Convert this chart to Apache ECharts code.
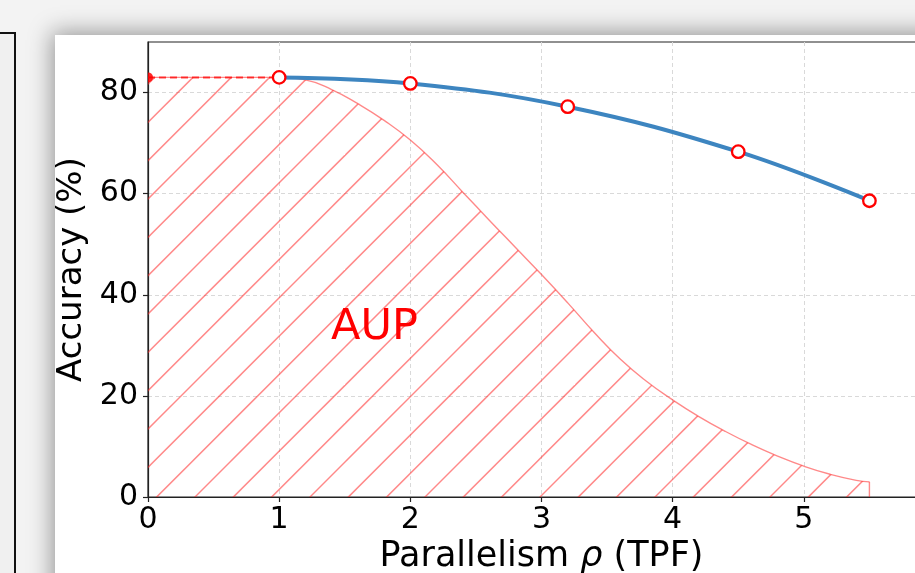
<!DOCTYPE html>
<html>
<head>
<meta charset="utf-8">
<script src="https://cdn.jsdelivr.net/npm/echarts@6.0.0/dist/echarts.min.js"></script>
<style>
  html, body { margin: 0; padding: 0; width: 915px; height: 573px; overflow: hidden; background: #f3f3f3; }
  #leftbox { position: absolute; left: -4px; top: 32px; width: 16px; height: 600px; border: 2px solid #111; background: #f0f0f0; }
  #panel { position: absolute; left: 55px; top: 35px; width: 920px; height: 620px; background: #fff; box-shadow: 0 0 22px 3px rgba(0,0,0,0.38); }
  #chart { position: absolute; left: 0; top: 0; width: 915px; height: 573px; }
</style>
</head>
<body>
<div id="leftbox"></div>
<div id="panel"></div>
<div id="chart"></div>
<script>
// ---- data ----
const parallelism = [1, 2, 3.2, 4.5, 5.5];
const accuracy = [83.0, 81.8, 77.2, 68.3, 58.6];
const refX = [0, 1];
const refY = [83.0, 83.0];
const aupX = [0, 1.0, 1.2, 1.4, 1.6, 1.8, 2.0, 2.2, 2.4, 2.6, 2.8, 3.0, 3.2, 3.4, 3.6, 3.8, 4.0, 4.2, 4.4, 4.6, 4.8, 5.0, 5.2, 5.4, 5.5];
const aupY = [83.0, 83.0, 82.5, 80.6, 77.8, 74.5, 70.6, 65.8, 60.3, 54.8, 49.4, 44.0, 38.4, 32.6, 27.3, 22.9, 19.2, 15.9, 13.0, 10.4, 8.1, 6.1, 4.5, 3.3, 3.0];
const aupEndX = [5.5, 5.5];
const aupEndY = [3.0, 0];
const xTicks = [0, 1, 2, 3, 4, 5, 6];
const yTicks = [0, 20, 40, 60, 80];
const aupLabelPos = [1.727, 33.5];

// ---- hatch pattern ----
function makeHatch() {
  const T = 115, c = document.createElement('canvas');
  c.width = T; c.height = T;
  const g = c.getContext('2d');
  g.strokeStyle = 'rgba(255,40,40,0.55)';
  g.lineWidth = 1.5;
  const step = T / 3, phase = 2;
  for (let i = -1; i <= 6; i++) {
    const k = phase + i * step;
    g.beginPath(); g.moveTo(k + 30, -30); g.lineTo(-30, k + 30); g.stroke();
  }
  return c;
}

const FONT = 'DejaVu Sans';
const EDGE = 'rgba(255,40,40,0.55)';
const chart = echarts.init(document.getElementById('chart'), null, { renderer: 'canvas' });
chart.setOption({
  animation: false,
  backgroundColor: 'transparent',
  grid: { left: 148, top: 42, right: -20, bottom: 76, containLabel: false, outerBoundsMode: 'none', show: true, borderColor: '#222', borderWidth: 1.2, backgroundColor: 'transparent' },
  xAxis: {
    type: 'value', min: 0, max: 6, interval: 1,
    name: 'Parallelism {i|ρ} (TPF)', nameLocation: 'middle', nameGap: 41,
    nameTextStyle: { fontFamily: FONT, fontSize: 35, color: '#000', rich: { i: { fontFamily: FONT, fontSize: 35, fontStyle: 'italic', color: '#000' } } },
    axisLine: { show: true, onZero: false, lineStyle: { color: '#222', width: 1.2 } },
    axisTick: { show: true, inside: false, length: 5, lineStyle: { color: '#222', width: 1.2 }, customValues: xTicks },
    axisLabel: { fontFamily: FONT, fontSize: 30, color: '#000', margin: 8, customValues: xTicks },
    splitLine: { show: true, lineStyle: { color: '#d9d9d9', type: [4, 3], width: 1 } }
  },
  yAxis: {
    type: 'value', min: 0, max: 90, interval: 20,
    name: 'Accuracy (%)', nameLocation: 'middle', nameGap: 52,
    nameTextStyle: { fontFamily: FONT, fontSize: 34, color: '#000' },
    axisLine: { show: true, onZero: false, lineStyle: { color: '#222', width: 1.2 } },
    axisTick: { show: true, inside: false, length: 5, lineStyle: { color: '#222', width: 1.2 }, customValues: yTicks },
    axisLabel: { fontFamily: FONT, fontSize: 30, color: '#000', margin: 10, customValues: yTicks },
    splitLine: { show: true, lineStyle: { color: '#d9d9d9', type: [4, 3], width: 1 } }
  },
  series: [
    {
      name: 'AUP', type: 'line', z: 1,
      data: aupX.map((x, i) => [x, aupY[i]]),
      symbol: 'none', smooth: 0.5,
      lineStyle: { color: EDGE, width: 1.4 },
      areaStyle: { color: { image: makeHatch(), repeat: 'repeat' }, opacity: 1 }
    },
    {
      name: 'AUPend', type: 'line', z: 1,
      data: aupEndX.map((x, i) => [x, aupEndY[i]]),
      symbol: 'none',
      lineStyle: { color: EDGE, width: 1.4 }
    },
    {
      name: 'ref', type: 'line', z: 2,
      data: [
        { value: [refX[0], refY[0]], symbol: 'path://M0,0 A5,5 0 0 1 0,10 Z', symbolSize: [5, 10], symbolOffset: [2.5, 0] },
        { value: [refX[1], refY[1]], symbol: 'none' }
      ],
      lineStyle: { color: 'rgba(255,0,0,0.7)', width: 2, type: [7, 4] },
      itemStyle: { color: 'rgba(255,0,0,0.85)', borderWidth: 0 }
    },
    {
      name: 'acc', type: 'line', z: 3,
      data: parallelism.map((x, i) => [x, accuracy[i]]),
      smooth: 0.4,
      symbol: 'circle', symbolSize: 12.5,
      lineStyle: { color: '#3d85c0', width: 4 },
      itemStyle: { color: '#fff', borderColor: '#ff0000', borderWidth: 2.3 }
    },
    {
      name: 'label', type: 'scatter', z: 4,
      data: [aupLabelPos],
      symbolSize: 0,
      itemStyle: { opacity: 1 },
      label: { show: true, position: 'inside', formatter: 'AUP', fontFamily: FONT, fontSize: 43, color: '#ff0000', opacity: 1 }
    }
  ]
});
</script>
</body>
</html>
